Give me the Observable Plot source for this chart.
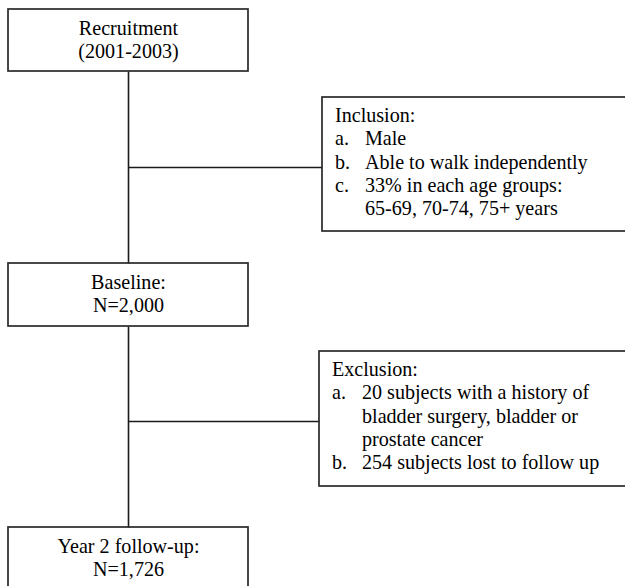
<!DOCTYPE html>
<html>
<head>
<meta charset="utf-8">
<script src="https://cdn.jsdelivr.net/npm/d3@7"></script>
<script src="https://cdn.jsdelivr.net/npm/@observablehq/plot@0.6"></script>
<style>
  html, body { margin: 0; padding: 0; background: #fff; overflow: hidden; }
  #chart svg { display: block; }
</style>
</head>
<body>
<div id="chart"></div>
<script>
// ---- content ----
const stageTitles = ["Recruitment", "Baseline:", "Year 2 follow-up:"];
const stageSubtitles = ["(2001-2003)", "N=2,000", "N=1,726"];
const sideTitles = ["Inclusion:", "Exclusion:"];
const inclusionItems = ["Male", "Able to walk independently", "33% in each age groups:", "65-69, 70-74, 75+ years"];
const inclusionItemLetters = ["a.", "b.", "c.", ""];
const exclusionItemLetters = ["a.", "", "", "b."];
const exclusionItems = ["20 subjects with a history of", "bladder surgery, bladder or", "prostate cancer", "254 subjects lost to follow up"];

// ---- layout (pixel coordinate system of the page) ----
const W = 625, H = 586;
const stageBoxes = [[9, 71], [263, 326], [527, 610]];       // top / bottom of each stage box
const stageX = [8, 248];
const spineX = 128;
const sideBoxes = [
  {x1: 322, y1: 97, y2: 231, branchY: 167, items: inclusionItems, letters: inclusionItemLetters},
  {x1: 319, y1: 351, y2: 486, branchY: 421, items: exclusionItems, letters: exclusionItemLetters}
];
const lineH = 23.3;

const rects = [];
stageBoxes.forEach(([t, b]) => rects.push({x1: stageX[0], x2: stageX[1], y1: t, y2: b}));
sideBoxes.forEach(s => rects.push({x1: s.x1, x2: W + 20, y1: s.y1, y2: s.y2}));

const links = [];
for (let i = 0; i < stageBoxes.length - 1; i++) {
  links.push({x1: spineX, y1: stageBoxes[i][1], x2: spineX, y2: stageBoxes[i + 1][0]});
}
sideBoxes.forEach(s => links.push({x1: spineX, y1: s.branchY, x2: s.x1, y2: s.branchY}));

const centerTexts = [];
stageBoxes.forEach(([t], i) => {
  centerTexts.push({x: spineX, y: t + 25, text: stageTitles[i]});
  centerTexts.push({x: spineX, y: t + 25 + lineH, text: stageSubtitles[i]});
});

const leftTexts = [];
sideBoxes.forEach((s, i) => {
  const x0 = s.x1 + 12.5;
  const base = s.y1 + 24.5;
  leftTexts.push({x: x0, y: base, text: sideTitles[i]});
  s.items.forEach((it, j) => {
    const y = base + (j + 1) * lineH;
    if (s.letters[j]) leftTexts.push({x: x0, y, text: s.letters[j]});
    leftTexts.push({x: x0 + 30, y, text: it});
  });
});

const font = "'Liberation Serif', 'Times New Roman', serif";
const fs = 20.1;

const chart = Plot.plot({
  width: W,
  height: H,
  margin: 0,
  x: {domain: [0, W], range: [0, W], axis: null},
  y: {domain: [0, H], range: [0, H], axis: null},
  style: {background: "#fff", fontFamily: font},
  marks: [
    Plot.link(links, {x1: "x1", y1: "y1", x2: "x2", y2: "y2", stroke: "#1a1a1a", strokeWidth: 1.6, clip: true}),
    Plot.rect(rects, {x1: "x1", x2: "x2", y1: "y1", y2: "y2", fill: "none", stroke: "#2a2a2a", strokeWidth: 1.7, clip: true}),
    Plot.text(centerTexts, {x: "x", y: "y", text: "text", textAnchor: "middle", lineAnchor: "bottom",
      fontSize: fs, fill: "#000", fontFamily: font}),
    Plot.text(leftTexts, {x: "x", y: "y", text: "text", textAnchor: "start", lineAnchor: "bottom",
      fontSize: fs, fill: "#000", fontFamily: font})
  ]
});
document.getElementById("chart").appendChild(chart);
</script>
</body>
</html>
